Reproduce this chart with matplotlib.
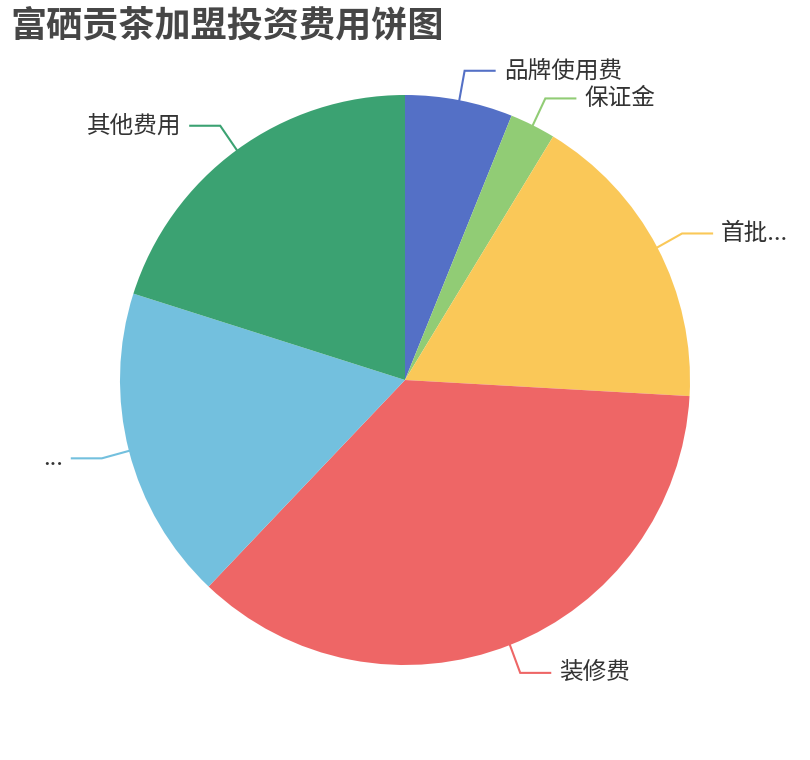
import numpy as np
import matplotlib
matplotlib.use("Agg")
import matplotlib.pyplot as plt

plt.rcParams["font.family"] = ["Noto Sans CJK SC", "DejaVu Sans"]

# Data (share of total investment, %)
names = ["品牌使用费", "保证金", "首批...", "装修费", "...", "其他费用"]
values = [6.1, 2.6, 17.2, 36.2, 17.8, 20.1]
colors = ["#5470c6", "#91cc75", "#fac858", "#ee6666", "#73c0de", "#3ba272"]

W, H = 810, 760
CX, CY, R = 405, 380, 285

fig = plt.figure(figsize=(W / 100, H / 100), dpi=100)
ax = fig.add_axes([0, 0, 1, 1])

wedges, _ = ax.pie(values, colors=colors, startangle=90, counterclock=False,
                   center=(CX, CY), radius=R, frame=False,
                   wedgeprops=dict(linewidth=0))
ax.set_xlim(0, W)
ax.set_ylim(0, H)
ax.set_aspect("equal")
ax.axis("off")

# label lines: radial piece then horizontal piece
for w, name, c in zip(wedges, names, colors):
    mid = np.deg2rad((w.theta1 + w.theta2) / 2)
    x0, y0 = CX + R * np.cos(mid), CY + R * np.sin(mid)
    x1, y1 = CX + (R + 28) * np.cos(mid), CY + (R + 30) * np.sin(mid)
    side = 1 if np.cos(mid) >= 0 else -1
    x2 = x1 + side * 30
    ax.plot([x0, x1, x2], [y0, y1, y1], color=c, lw=1.5, solid_joinstyle="miter")
    ax.text(x2 + side * 9, y1, name, ha="left" if side > 0 else "right",
            va="center", fontsize=17, color="#333333")

fig.text(10 / W, 1 - 26 / H, "富硒贡茶加盟投资费用饼图", ha="left", va="center",
         fontsize=26, fontweight="bold", color="#464646")

fig.savefig("out.png", dpi=100)
